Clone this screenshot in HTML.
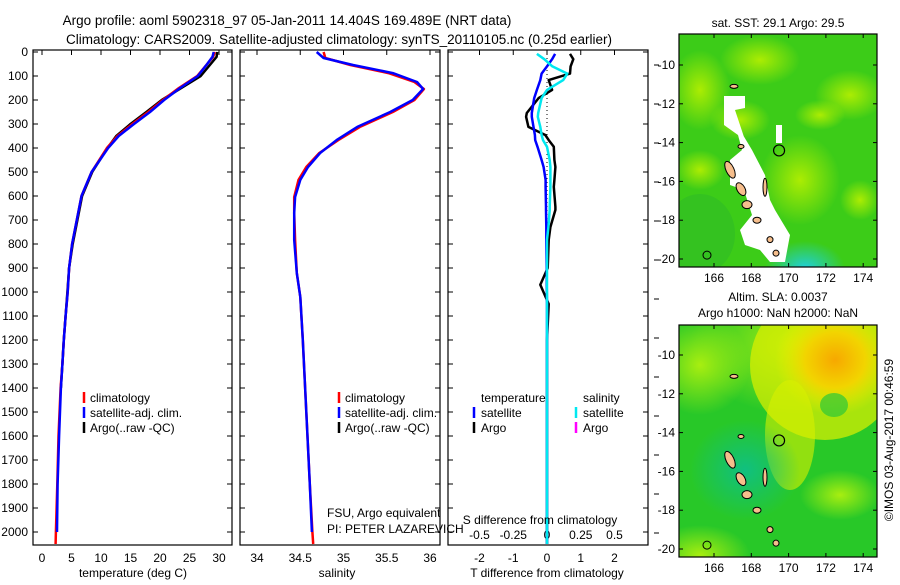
<!DOCTYPE html>
<html><head><meta charset="utf-8">
<style>
body{margin:0;background:#fff;}
svg text{font-family:"Liberation Sans",sans-serif;fill:#000;}
</style></head>
<body>
<svg id="c" width="900" height="580" xmlns="http://www.w3.org/2000/svg">
<defs>
<radialGradient id="yl1" cx="50%" cy="50%" r="50%"><stop offset="0" stop-color="#b8f000" stop-opacity="0.9"/><stop offset="1" stop-color="#b8f000" stop-opacity="0"/></radialGradient>
<radialGradient id="cy1" cx="50%" cy="50%" r="50%"><stop offset="0" stop-color="#20d0e0"/><stop offset="1" stop-color="#20d0e0" stop-opacity="0"/></radialGradient>
<radialGradient id="or2" cx="50%" cy="50%" r="50%"><stop offset="0" stop-color="#f7a800"/><stop offset="0.5" stop-color="#f2d400"/><stop offset="1" stop-color="#e6f000" stop-opacity="0"/></radialGradient>
<radialGradient id="tl2" cx="50%" cy="50%" r="50%"><stop offset="0" stop-color="#10c080"/><stop offset="1" stop-color="#10c080" stop-opacity="0"/></radialGradient>
<radialGradient id="yg2" cx="50%" cy="50%" r="50%"><stop offset="0" stop-color="#a8ee10"/><stop offset="1" stop-color="#a8ee10" stop-opacity="0"/></radialGradient>
<clipPath id="m1"><rect x="679" y="34" width="198" height="233"/></clipPath>
<clipPath id="m2"><rect x="679" y="325" width="198" height="232"/></clipPath>
</defs>
<text x="287" y="25" font-size="13.5" text-anchor="middle">Argo profile: aoml 5902318_97 05-Jan-2011 14.404S 169.489E (NRT data)</text>
<text x="339" y="44" font-size="13.5" text-anchor="middle">Climatology: CARS2009. Satellite-adjusted climatology: synTS_20110105.nc (0.25d earlier)</text>
<g id="plots"></g>
<g id="maps"></g>
</svg>
<script>
// ---- data (depth in m) ----
const tDepth = [0,20,50,100,150,200,250,300,350,400,500,600,700,800,900,1000,1100,1200,1300,1400,1600,1800,2000,2050];
const tClim  = [29.3,29.0,28.0,26.3,23.2,20.5,18.0,15.3,12.8,11.0,8.4,6.7,5.9,5.1,4.6,4.35,4.0,3.7,3.45,3.15,2.8,2.6,2.35,2.3];
const tSat   = [29.1,28.9,28.0,26.4,23.4,20.7,18.3,15.6,13.0,11.2,8.4,6.7,5.9,5.1,4.6,4.35,4.0,3.7,3.45,3.2,2.9,2.65,2.55];
const tArgo  = [29.7,29.6,28.6,26.9,23.6,20.3,17.7,15.0,12.6,11.1,8.5,6.8,6.0,5.2,4.6,4.3,4.0,3.7,3.45,3.2];
const sDepth = [0,25,54,88,125,154,200,250,312,367,421,479,533,604,671,783,921,1021,1200,1500,1800,2000,2050];
const sClim  = [34.77,34.79,35.08,35.52,35.82,35.93,35.82,35.57,35.19,34.94,34.72,34.57,34.48,34.43,34.43,34.44,34.46,34.5,34.53,34.57,34.61,34.64,34.65];
const sSat   = [34.69,34.77,35.11,35.57,35.85,35.92,35.80,35.54,35.16,34.92,34.73,34.59,34.50,34.44,34.43,34.43,34.46,34.5,34.53,34.57,34.61,34.635];
const dDepth = [8,30,60,90,117,158,192,254,270,312,346,367,395,450,479,533,562,645,658,729,783,900,970,1050,1200,1500,2050];
const dTSat  = [0.24,0.15,0.0,-0.16,-0.2,-0.3,-0.38,-0.45,-0.45,-0.4,-0.36,-0.35,-0.28,-0.16,-0.1,-0.04,-0.04,-0.03,-0.03,-0.02,-0.02,-0.01,-0.01,0,0,0,0];
const dTArgo = [0.68,0.78,0.7,0.68,0.05,0.15,-0.25,-0.6,-0.62,-0.55,-0.05,0.05,0.2,0.22,0.25,0.22,0.2,0.25,0.25,0.1,0.05,0.02,-0.2,0.05,0.0,0.0,0.0];
const dSSat  = [-0.075,-0.02,0.04,0.15,0.12,0.0,-0.04,-0.065,-0.068,-0.05,-0.04,-0.03,0.0,0.02,0.025,0.025,0.025,0.02,0.02,0.01,0.0,0,0,0,0,0,0];
const depthTicks = [0,100,200,300,400,500,600,700,800,900,1000,1100,1200,1300,1400,1500,1600,1700,1800,1900,2000];
const tTicks = [0,5,10,15,20,25,30];
const sTicks = [34,34.5,35,35.5,36];
const sTickLabels = ["34","34.5","35","35.5","36"];
const dTicks = [-2,-1,0,1,2];
const dsTicks = [-0.5,-0.25,0,0.25,0.5];
const dsTickLabels = ["-0.5","-0.25","0","0.25","0.5"];

const NS='http://www.w3.org/2000/svg';
const plots=document.getElementById('plots');
function mk(tag,attrs,parent){const e=document.createElementNS(NS,tag);for(const k in attrs)e.setAttribute(k,attrs[k]);(parent||plots).appendChild(e);return e;}
const Y=d=>52+d*0.24;
const TOP=50, BOT=545;
function panel(x0,x1,name){
  const g=mk('g',{});
  
  
  mk('rect',{x:x0,y:TOP,width:x1-x0,height:BOT-TOP,fill:'none',stroke:'#000','stroke-width':1.2},g);
  depthTicks.forEach(d=>{mk('line',{x1:x0,x2:x0+5,y1:Y(d),y2:Y(d),stroke:'#000'},g);mk('line',{x1:x1,x2:x1-5,y1:Y(d),y2:Y(d),stroke:'#000'},g);});
  return g;
}
function line(xs,ds,X,color,w,g,name,dash){
  const n=Math.min(xs.length,ds.length);
  const p=ds.slice(0,n).map((d,i)=>X(xs[i]).toFixed(1)+','+Y(d).toFixed(1)).join(' ');
  const e=mk('polyline',{points:p,fill:'none',stroke:color,'stroke-width':w,'stroke-linejoin':'round'},g);
  
  
  if(dash)e.setAttribute('stroke-dasharray',dash);
  return e;
}
function txt(x,y,s,size,anchor,g,name){const e=mk('text',{x:x,y:y,'font-size':size,'text-anchor':anchor||'start'},g);e.textContent=s;return e;}

depthTicks.forEach(d=>txt(28,Y(d)+4,String(d),12,'end',plots,'depth-tick-label'));

// panel 1 temperature
const XT=v=>42+v*5.9;
const g1=panel(33,232,'temperature-panel');
tTicks.forEach(v=>{mk('line',{x1:XT(v),x2:XT(v),y1:TOP,y2:TOP+5,stroke:'#000'},g1);txt(XT(v),562,String(v),12,'middle',g1,'temperature-tick-label');});
line(tArgo,tDepth,XT,'#000',2.5,g1,'temperature-argo-line');
line(tClim,tDepth,XT,'#f00',2.5,g1,'temperature-climatology-line');
line(tSat,tDepth,XT,'#00f',2.5,g1,'temperature-satellite-line');
txt(133,577,'temperature (deg C)',12,'middle',g1,'temperature-axis-title');
[['#f00','climatology'],['#00f','satellite-adj. clim.'],['#000','Argo(..raw -QC)']].forEach((l,i)=>{
  mk('line',{x1:84,x2:84,y1:392+i*15,y2:403+i*15,stroke:l[0],'stroke-width':2.5},g1);
  txt(90,402+i*15,l[1],12,'start',g1,'temperature-legend-entry');
});

// panel 2 salinity
const XS=v=>257+(v-34)*86.5;
const g2=panel(240,440,'salinity-panel');
sTicks.forEach((v,i)=>{mk('line',{x1:XS(v),x2:XS(v),y1:TOP,y2:TOP+5,stroke:'#000'},g2);txt(XS(v),562,sTickLabels[i],12,'middle',g2,'salinity-tick-label');});
line(sClim,sDepth,XS,'#f00',2.5,g2,'salinity-climatology-line');
line(sSat,sDepth,XS,'#00f',2.5,g2,'salinity-satellite-line');
txt(337,577,'salinity',12,'middle',g2,'salinity-axis-title');
[['#f00','climatology'],['#00f','satellite-adj. clim.'],['#000','Argo(..raw -QC)']].forEach((l,i)=>{
  mk('line',{x1:339,x2:339,y1:392+i*15,y2:403+i*15,stroke:l[0],'stroke-width':2.5},g2);
  txt(345,402+i*15,l[1],12,'start',g2,'salinity-legend-entry');
});
txt(327,517,'FSU, Argo equivalent',12,'start',g2,'float-owner-label');
txt(327,533,'PI: PETER LAZAREVICH',12,'start',g2,'pi-label');

// panel 3 differences
const XD=v=>547+v*33.75;
const XDS=v=>XD(v*4);
const g3=panel(448,648,'difference-panel');
dTicks.forEach(v=>{mk('line',{x1:XD(v),x2:XD(v),y1:TOP,y2:TOP+5,stroke:'#000'},g3);txt(XD(v),562,String(v),12,'middle',g3,'t-difference-tick-label');});
dsTicks.forEach((v,i)=>txt(XDS(v),539,dsTickLabels[i],12,'middle',g3,'s-difference-tick-label'));
mk('line',{x1:XD(0),x2:XD(0),y1:TOP,y2:BOT,stroke:'#000','stroke-dasharray':'1,3'},g3);
line(dTArgo,dDepth,XD,'#000',2.5,g3,'t-difference-argo-line');
line(dTSat,dDepth,XD,'#00f',2.5,g3,'t-difference-satellite-line');
line(dSSat,dDepth,XDS,'#00e8f0',2.5,g3,'s-difference-satellite-line');
txt(540,524,'S difference from climatology',12,'middle',g3,'s-difference-axis-title');
txt(547,577,'T difference from climatology',12,'middle',g3,'t-difference-axis-title');
txt(481,402,'temperature',12,'start',g3,'temperature-legend-title');
txt(583,402,'salinity',12,'start',g3,'salinity-legend-title');
[['#00f','satellite',474],['#000','Argo',474],['#00e8f0','satellite',576],['#f0f','Argo',576]].forEach((l,i)=>{
  const r=i%2;
  mk('line',{x1:l[2],x2:l[2],y1:407+r*15,y2:418+r*15,stroke:l[0],'stroke-width':2.5},g3);
  txt(l[2]+7,417+r*15,l[1],12,'start',g3,'difference-legend-entry');
});
for(let i=0;i<13;i++){mk('line',{x1:654,x2:659,y1:65+i*39,y2:65+i*39,stroke:'#000'},g3);}

// ---- maps ----
const lonTicks=[166,168,170,172,174];
const latTicks=[-10,-12,-14,-16,-18,-20];
const maps=document.getElementById('maps');
function MX(l){return 714+(l-166)*18.65;}
function map(yTop,yM10,clip,name,kind){
  const g=mk('g',{},maps);
  
  
  const MY=la=>yM10+(-10-la)*19.4;
  const c=mk('g',{'clip-path':'url(#'+clip+')'},g);
  if(kind===1){
    mk('rect',{x:679,y:yTop,width:198,height:233,fill:'#3ccc18'},c);
    [[700,90,30,40],[760,60,40,25],[740,120,30,20],[850,95,35,25],[800,180,40,45],[820,115,25,15],[700,170,25,20],[860,200,20,20]].forEach(b=>mk('ellipse',{cx:b[0],cy:yTop+b[1]-34,rx:b[2],ry:b[3],fill:'url(#yl1)'},c));
    mk('ellipse',{cx:805,cy:yTop+235,rx:40,ry:28,fill:'url(#cy1)'},c);
    mk('ellipse',{cx:700,cy:yTop+200,rx:35,ry:40,fill:'#25b030',opacity:0.35},c);
    mk('polygon',{points:'724,96 745,96 745,108 735,110 745,140 740,130 752,150 765,175 770,200 775,210 790,235 785,262 770,262 760,250 745,245 740,230 752,215 744,190 730,185 730,160 742,150 738,135 724,125',fill:'#fff'},c);
    mk('rect',{x:776,y:125,width:6,height:18,fill:'#fff'},c);
  } else {
    mk('rect',{x:679,y:yTop,width:198,height:232,fill:'#28c828'},c);
    mk('ellipse',{cx:800,cy:yTop+20,rx:110,ry:70,fill:'url(#yg2)'},c);
    mk('ellipse',{cx:700,cy:yTop+40,rx:50,ry:50,fill:'url(#yg2)'},c);
    mk('ellipse',{cx:825,cy:yTop+40,rx:75,ry:75,fill:'#e0f000',opacity:0.7},c);
    mk('ellipse',{cx:835,cy:yTop+35,rx:60,ry:55,fill:'url(#or2)'},c);
    mk('ellipse',{cx:790,cy:yTop+110,rx:25,ry:55,fill:'#d8f000',opacity:0.6},c);
    mk('ellipse',{cx:840,cy:yTop+170,rx:40,ry:25,fill:'url(#yg2)'},c);
    mk('ellipse',{cx:745,cy:yTop+145,rx:55,ry:50,fill:'url(#tl2)'},c);
    mk('ellipse',{cx:700,cy:yTop+230,rx:50,ry:30,fill:'url(#yg2)'},c);
    mk('ellipse',{cx:834,cy:yTop+80,rx:14,ry:12,fill:'#2cc838',opacity:0.7},c);
  }
  [[730,-15.4,4,9,-25],[741,-16.4,4,7,-30],[747,-17.2,5,4,0],[757,-18.0,4,3,0],[770,-19.0,3,3,0],[776,-19.7,3,3,0],[734,-11.1,4,2,0],[741,-14.2,3,2,0],[765,-16.3,2,9,0]].forEach(s=>mk('ellipse',{cx:s[0],cy:MY(s[1]),rx:s[2],ry:s[3],fill:'#f6be8c',stroke:'#000','stroke-width':1,transform:'rotate('+s[4]+' '+s[0]+' '+MY(s[1])+')'},c));
  mk('circle',{cx:707,cy:MY(-19.8),r:4,fill:'none',stroke:'#000'},c);
  const ag=mk('circle',{cx:MX(169.489),cy:MY(-14.404),r:5.5,fill:'none',stroke:'#000','stroke-width':1.2},g);
  
  
  const h=(kind===1)?233:232;
  mk('rect',{x:679,y:yTop,width:198,height:h,fill:'none',stroke:'#000','stroke-width':1.2},g);
  lonTicks.forEach(l=>{mk('line',{x1:MX(l),x2:MX(l),y1:yTop,y2:yTop+4,stroke:'#000'},g);mk('line',{x1:MX(l),x2:MX(l),y1:yTop+h,y2:yTop+h-4,stroke:'#000'},g);txt(MX(l),yTop+h+15,String(l),12,'middle',g,'longitude-tick-label');});
  latTicks.forEach(la=>{mk('line',{x1:679,x2:683,y1:MY(la),y2:MY(la),stroke:'#000'},g);mk('line',{x1:877,x2:873,y1:MY(la),y2:MY(la),stroke:'#000'},g);txt(675,MY(la)+4,String(la),12,'end',g,'latitude-tick-label');});
}
map(34,65,'m1','sst-map',1);
map(325,355,'m2','sla-map',2);
txt(778,27,'sat. SST: 29.1  Argo: 29.5',12,'middle',maps,'sst-map-title');
txt(778,301,'Altim. SLA: 0.0037',12,'middle',maps,'sla-map-title');
txt(778,317,'Argo h1000: NaN h2000: NaN',12,'middle',maps,'sla-map-subtitle');
const ts=txt(0,0,'©IMOS 03-Aug-2017 00:46:59',12,'middle',maps,'timestamp-label');
ts.setAttribute('transform','translate(893,440) rotate(-90)');
</script>
</body></html>
